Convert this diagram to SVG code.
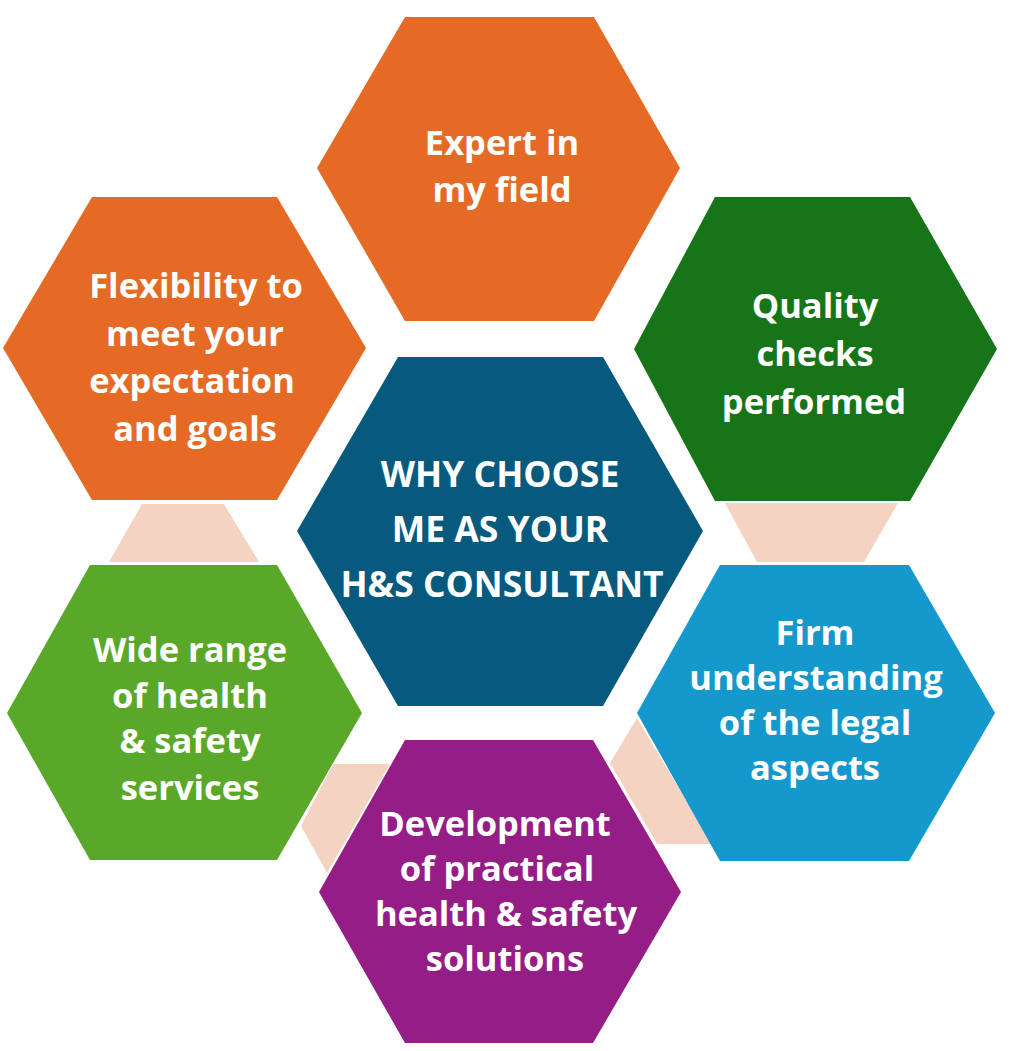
<svg xmlns="http://www.w3.org/2000/svg" width="1012" height="1051" viewBox="0 0 1012 1051">
<style>
.t{font-family:"Open Sans","Noto Sans","DejaVu Sans",sans-serif;font-weight:700;fill:#fff;text-anchor:middle;font-size:34.5px}
.c{font-size:35.5px}
.pe{fill:#F5D3C2}
</style>
<rect width="1012" height="1051" fill="#fff"/>
<g id="connectors">
<polygon class="pe" points="142,504 224,504 259,562 109,562"/>
<polygon class="pe" points="725,503 898,503 864,562 757,562"/>
<polygon class="pe" points="333,764 390,764 327,873 301,826"/>
<polygon class="pe" points="637,718 712,844 657,844 610,763"/>
</g>
<g id="center">
<polygon fill="#075A7E" points="398,357 603,357 703,531 603,706 398,706 297,531"/>
<text class="t c" x="500" y="487">WHY CHOOSE</text>
<text class="t c" x="500" y="542">ME AS YOUR</text>
<text class="t c" x="502" y="597">H&amp;S CONSULTANT</text>
</g>
<g id="expert">
<polygon fill="#E46A25" points="405,17 594,17 680,168 594,321 405,321 317,168"/>
<text class="t" x="502" y="155">Expert in</text>
<text class="t" x="502" y="202">my field</text>
</g>
<g id="flexibility">
<polygon fill="#E46A25" points="92,197 277,197 366,348 277,500 92,500 3,348"/>
<text class="t" x="196" y="298">Flexibility to</text>
<text class="t" x="195" y="346">meet your</text>
<text class="t" x="192" y="393">expectation</text>
<text class="t" x="195" y="441">and goals</text>
</g>
<g id="quality">
<polygon fill="#177419" points="715,197 910,197 997,349 910,501 715,501 634,349"/>
<text class="t" x="815" y="318">Quality</text>
<text class="t" x="815" y="366">checks</text>
<text class="t" x="814" y="414">performed</text>
</g>
<g id="wide">
<polygon fill="#5AA829" points="90,565 277,565 362,713 277,860 90,860 7,713"/>
<text class="t" x="190" y="662">Wide range</text>
<text class="t" x="190" y="708">of health</text>
<text class="t" x="190" y="753">&amp; safety</text>
<text class="t" x="190" y="800">services</text>
</g>
<g id="firm">
<polygon fill="#1598CC" points="720,565 909,565 995,713 909,861 720,861 637,713"/>
<text class="t" x="815" y="645">Firm</text>
<text class="t" x="816" y="690">understanding</text>
<text class="t" x="815" y="735">of the legal</text>
<text class="t" x="815" y="780">aspects</text>
</g>
<g id="development">
<polygon fill="#951D86" points="405,740 593,740 681,892 593,1043 405,1043 319,892"/>
<text class="t" x="495" y="836">Development</text>
<text class="t" x="497" y="881">of practical</text>
<text class="t" x="506" y="926">health &amp; safety</text>
<text class="t" x="505" y="971">solutions</text>
</g>
</svg>
